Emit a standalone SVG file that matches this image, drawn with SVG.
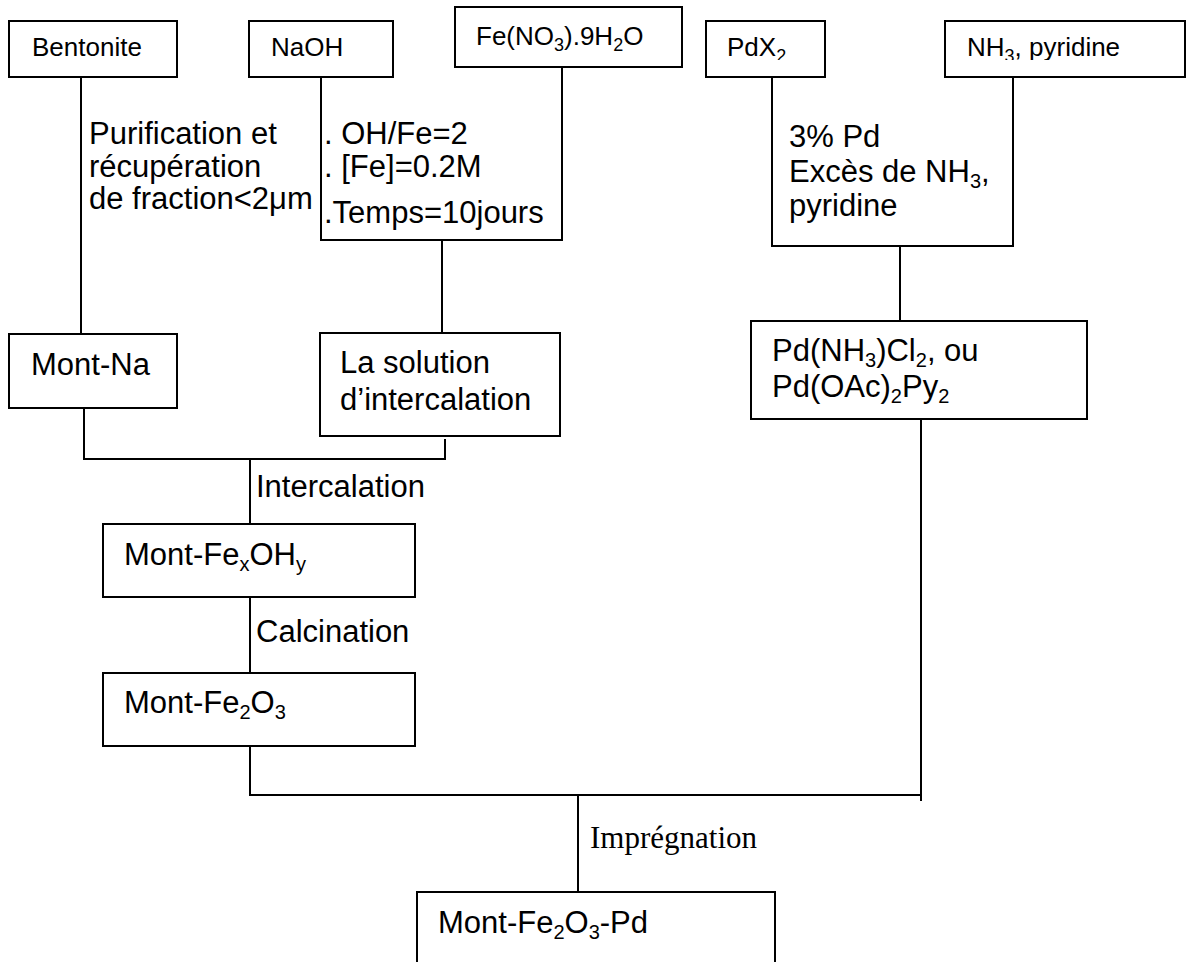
<svg xmlns="http://www.w3.org/2000/svg" width="1187" height="962" viewBox="0 0 1187 962">
<style>
rect{fill:#fff;stroke:#000;stroke-width:2}
line,path{stroke:#000;stroke-width:2;fill:none}
text{font-family:"Liberation Sans",Arial,sans-serif;fill:#000}
.s{font-size:26px}
.b{font-size:31px}
.t{font-family:"Liberation Serif","Times New Roman",serif;font-size:31px}
</style>
<defs>
<clipPath id="clipTop"><rect x="700" y="0" width="487" height="60" style="stroke:none"/></clipPath>
</defs>
<g id="connectors">
<line x1="81" y1="77" x2="81" y2="334"/>
<path d="M321 77 V240 H562 V67"/>
<line x1="442" y1="240" x2="442" y2="333"/>
<path d="M772 77 V246 H1013 V77"/>
<line x1="900" y1="246" x2="900" y2="321"/>
<path d="M84 408 V459 H445 V439"/>
<line x1="250" y1="459" x2="250" y2="524"/>
<line x1="250" y1="597" x2="250" y2="673"/>
<path d="M250 746 V795 H921 V419"/>
<line x1="921" y1="795" x2="921" y2="801"/>
<line x1="578" y1="795" x2="578" y2="892"/>
</g>
<g id="bentonite"><rect x="9" y="21" width="168" height="56"/><text class="s" x="32" y="56">Bentonite</text></g>
<g id="naoh"><rect x="249" y="21" width="144" height="56"/><text class="s" x="271" y="56">NaOH</text></g>
<g id="fenitrate"><rect x="455" y="7" width="227" height="60"/><text class="s" x="476" y="45">Fe(NO<tspan font-size="18" dy="6">3</tspan><tspan dy="-6">).9H</tspan><tspan font-size="18" dy="6">2</tspan><tspan dy="-6">O</tspan></text></g>
<g id="pdx2"><rect x="706" y="21" width="119" height="56"/><text class="s" x="727" y="56" clip-path="url(#clipTop)">PdX<tspan font-size="18" dy="6">2</tspan></text></g>
<g id="nh3"><rect x="945" y="21" width="240" height="56"/><text class="s" x="967" y="56" clip-path="url(#clipTop)">NH<tspan font-size="18" dy="6">3</tspan><tspan dy="-6">, pyridine</tspan></text></g>
<g id="label-purification"><text class="b" x="89" y="144">Purification et</text><text class="b" x="89" y="177">récupération</text><text class="b" x="89" y="209">de fraction&lt;2μm</text></g>
<g id="label-conditions"><text class="b" x="324" y="144">. OH/Fe=2</text><text class="b" x="324" y="177">. [Fe]=0.2M</text><text class="b" x="324" y="223">.Temps=10jours</text></g>
<g id="label-pd"><text class="b" x="789" y="147">3% Pd</text><text class="b" x="789" y="182">Excès de NH<tspan font-size="20" dy="6">3</tspan><tspan dy="-6">,</tspan></text><text class="b" x="789" y="216">pyridine</text></g>
<g id="montna"><rect x="9" y="334" width="168" height="74"/><text class="b" x="31" y="375">Mont-Na</text></g>
<g id="solution"><rect x="320" y="333" width="240" height="103"/><text class="b" x="340" y="373">La solution</text><text class="b" x="340" y="410">d’intercalation</text></g>
<g id="pdcomplex"><rect x="751" y="321" width="336" height="98"/><text class="b" x="772" y="361">Pd(NH<tspan font-size="20" dy="6">3</tspan><tspan dy="-6">)Cl</tspan><tspan font-size="20" dy="6">2</tspan><tspan dy="-6">, ou</tspan></text><text class="b" x="772" y="397">Pd(OAc)<tspan font-size="20" dy="6">2</tspan><tspan dy="-6">Py</tspan><tspan font-size="20" dy="6">2</tspan></text></g>
<g id="label-intercalation"><text class="b" x="256" y="497">Intercalation</text></g>
<g id="montfeoh"><rect x="103" y="524" width="312" height="73"/><text class="b" x="124" y="565">Mont-Fe<tspan font-size="20" dy="6">x</tspan><tspan dy="-6">OH</tspan><tspan font-size="20" dy="6">y</tspan></text></g>
<g id="label-calcination"><text class="b" x="256" y="642">Calcination</text></g>
<g id="montfe2o3"><rect x="103" y="673" width="312" height="73"/><text class="b" x="124" y="713">Mont-Fe<tspan font-size="20" dy="6">2</tspan><tspan dy="-6">O</tspan><tspan font-size="20" dy="6">3</tspan></text></g>
<g id="label-impregnation"><text class="t" x="590" y="848">Imprégnation</text></g>
<g id="montfe2o3pd"><rect x="417" y="892" width="358" height="90"/><text class="b" x="438" y="933">Mont-Fe<tspan font-size="20" dy="6">2</tspan><tspan dy="-6">O</tspan><tspan font-size="20" dy="6">3</tspan><tspan dy="-6">-Pd</tspan></text></g>
</svg>
